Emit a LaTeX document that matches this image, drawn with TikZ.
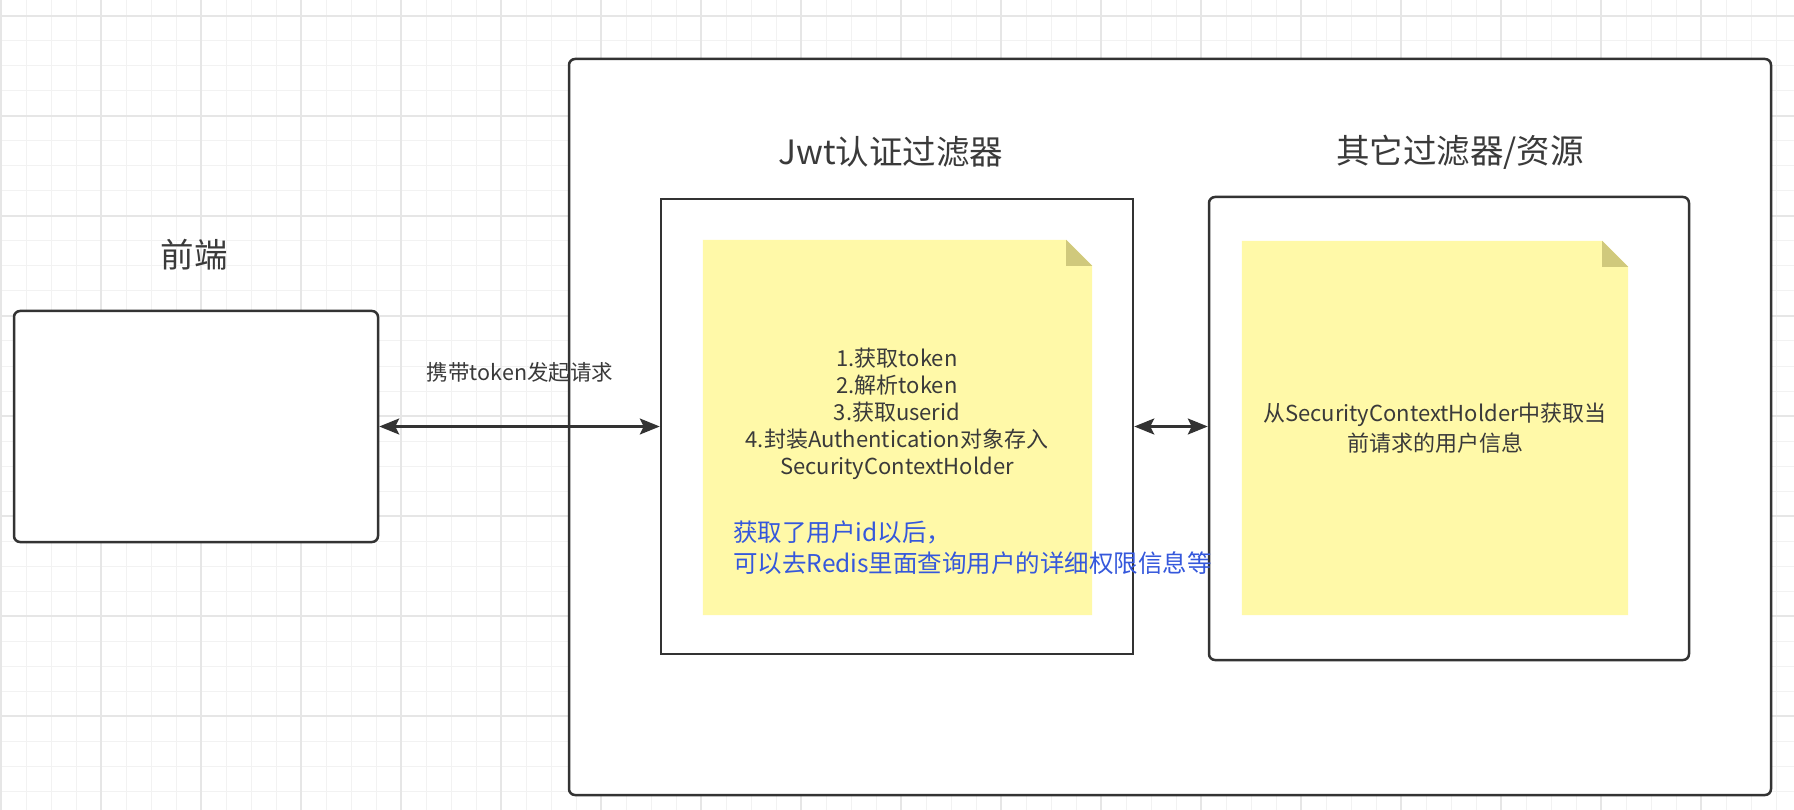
\documentclass[tikz,border=0pt]{standalone}
\usepackage{fontspec}
\setmainfont{Noto Sans CJK SC}
\usepackage{xcolor}
\usetikzlibrary{arrows.meta,positioning,calc}

\definecolor{gridminor}{HTML}{F2F2F2}
\definecolor{gridmajor}{HTML}{E6E6E6}
\definecolor{linegray}{HTML}{333333}
\definecolor{textgray}{HTML}{3A3A3A}
\definecolor{notefill}{HTML}{FFF9A8}
\definecolor{notefold}{HTML}{D0C97C}
\definecolor{hintblue}{HTML}{3558DC}

\begin{document}
\begin{tikzpicture}[
  x=1pt,y=-1pt,
  frame/.style={draw=linegray,line width=2.5pt,fill=white,inner sep=0pt},
  roundframe/.style={frame,rounded corners=6pt},
  note/.style={inner sep=0pt},
  title/.style={font=\fontsize{33.5}{40}\selectfont,text=textgray},
  body/.style={font=\fontsize{22}{27}\selectfont,text=textgray,align=center,inner sep=0pt},
  hint/.style={font=\fontsize{24.5}{31}\selectfont,text=hintblue,align=left,inner sep=0pt},
  arr/.style={{Stealth[length=20pt,width=16pt,inset=4pt]}-{Stealth[length=20pt,width=16pt,inset=4pt]},
              line width=2.5pt,draw=linegray}
]
\useasboundingbox (0,0) rectangle (1794,810);
\fill[white] (0,0) rectangle (1794,810);
% background grid
\foreach \gx in {1,26,...,1794} \draw[gridminor,line width=1pt] (\gx,0) -- (\gx,810);
\foreach \gy in {16,41,...,810} \draw[gridminor,line width=1pt] (0,\gy) -- (1794,\gy);
\foreach \gx in {1,101,...,1794} \draw[gridmajor,line width=1.2pt] (\gx,0) -- (\gx,810);
\foreach \gy in {16,116,...,810} \draw[gridmajor,line width=1.2pt] (0,\gy) -- (1794,\gy);

% containers
\node[roundframe,minimum width=1202pt,minimum height=736pt] (outer) at (1170,427) {};
\node[roundframe,minimum width=364pt,minimum height=231pt] (front) at (196,426.5) {};
\node[frame,minimum width=472pt,minimum height=455pt] (jwt) at (897,426.5) {};
\node[roundframe,minimum width=480pt,minimum height=463pt] (other) at (1449,428.5) {};

% titles
\node[title] (fronttitle) at (194,255) {前端};
\node[title] (jwttitle) at (891,152) {Jwt认证过滤器};
\node[title] (othertitle) at (1460,152) {其它过滤器/资源};

% sticky notes
\node[note,minimum width=389pt,minimum height=375pt] (jwtnote) at (897.5,427.5) {};
\node[note,minimum width=386pt,minimum height=374pt] (othernote) at (1435,428) {};
\foreach \n in {jwtnote,othernote} {
  \fill[notefill] (\n.south west) |- ($(\n.north east)+(-26,0)$)
    -- ($(\n.north east)+(0,26)$) -- (\n.south east) -- cycle;
  \fill[notefold] ($(\n.north east)+(-26,0)$) -- ($(\n.north east)+(-26,26)$)
    -- ($(\n.north east)+(0,26)$) -- cycle;
}
\node[body] (jwtsteps) at (897,413.5) {1.获取token\\2.解析token\\3.获取userid\\4.封装Authentication对象存入\\SecurityContextHolder};
\node[hint,anchor=west] (jwthint) at (733,547.5) {获取了用户id以后，\\可以去Redis里面查询用户的详细权限信息等};
\node[body,font=\fontsize{22}{30}\selectfont] (othertext) at (1435,428.5) {从SecurityContextHolder中获取当\\前请求的用户信息};

% connectors
\node[font=\fontsize{21.5}{26}\selectfont,text=textgray] (reqlabel) at (520,372) {携带token发起请求};
\draw[arr] (front.east) -- (jwt.west);
\draw[arr] (jwt.east) -- (jwt.east -| other.west);
\end{tikzpicture}
\end{document}
